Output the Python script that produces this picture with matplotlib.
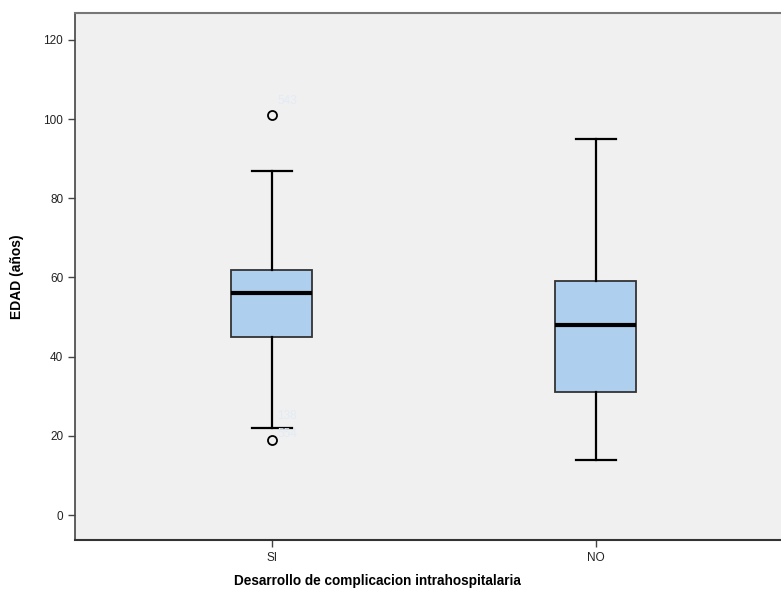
import matplotlib.pyplot as plt

# Datos del diagrama de caja
categorias = ['SI', 'NO']
q1 = [45, 31]
mediana = [56, 48]
q3 = [62, 59]
bigote_inf = [22, 14]
bigote_sup = [87, 95]
atipicos = [[101, 19], []]
etiquetas_atipicos = [[('543', 104.5), ('138', 25), ('554', 20.5)], []]
y_ticks = [0, 20, 40, 60, 80, 100, 120]

plt.rcParams['font.family'] = ['Liberation Sans', 'DejaVu Sans']

fig = plt.figure(figsize=(7.81, 5.94), dpi=100)
ax = fig.add_axes([0.096, 0.091, 0.904, 0.887])
ax.set_facecolor('#f0f0f0')

stats = []
for i, cat in enumerate(categorias):
    stats.append({
        'label': cat,
        'q1': q1[i], 'med': mediana[i], 'q3': q3[i],
        'whislo': bigote_inf[i], 'whishi': bigote_sup[i],
        'fliers': atipicos[i],
    })

posiciones = [1, 2]
ax.bxp(stats, positions=posiciones, widths=0.25, patch_artist=True,
       boxprops=dict(facecolor='#aed0ee', edgecolor='#333333', linewidth=1.3),
       medianprops=dict(color='black', linewidth=3),
       whiskerprops=dict(color='black', linewidth=1.6),
       capprops=dict(color='black', linewidth=1.6),
       capwidths=0.125,
       flierprops=dict(marker='o', markerfacecolor='none', markeredgecolor='black',
                       markersize=6.5, markeredgewidth=1.3))

# etiquetas de casos atipicos (muy tenues como en el original)
for i, etiquetas in enumerate(etiquetas_atipicos):
    for txt, val in etiquetas:
        ax.text(posiciones[i] + 0.016, val, txt, fontsize=8.5,
                color='#e2ebf5', ha='left', va='center')

ax.set_xlim(0.392, 2.571)
ax.set_ylim(-6.3, 126.8)
ax.set_yticks(y_ticks)
ax.set_xticks(posiciones)
ax.set_xticklabels(categorias)
ax.tick_params(axis='both', labelsize=8.5, length=5, width=1, color='#444444',
               labelcolor='#222222')

ax.set_ylabel('EDAD (años)', fontsize=10, fontweight='bold')
ax.set_xlabel('Desarrollo de complicacion intrahospitalaria', fontsize=9.8,
              fontweight='bold')
ax.xaxis.set_label_coords(0.428, -0.065)
ax.yaxis.set_label_coords(-0.072, 0.5)

ax.spines['right'].set_visible(False)
ax.spines['top'].set_color('#777777')
ax.spines['top'].set_linewidth(1.5)
ax.spines['left'].set_color('#444444')
ax.spines['left'].set_linewidth(1.2)
ax.spines['bottom'].set_color('#333333')
ax.spines['bottom'].set_linewidth(1.5)

plt.savefig('out.png', dpi=100)
